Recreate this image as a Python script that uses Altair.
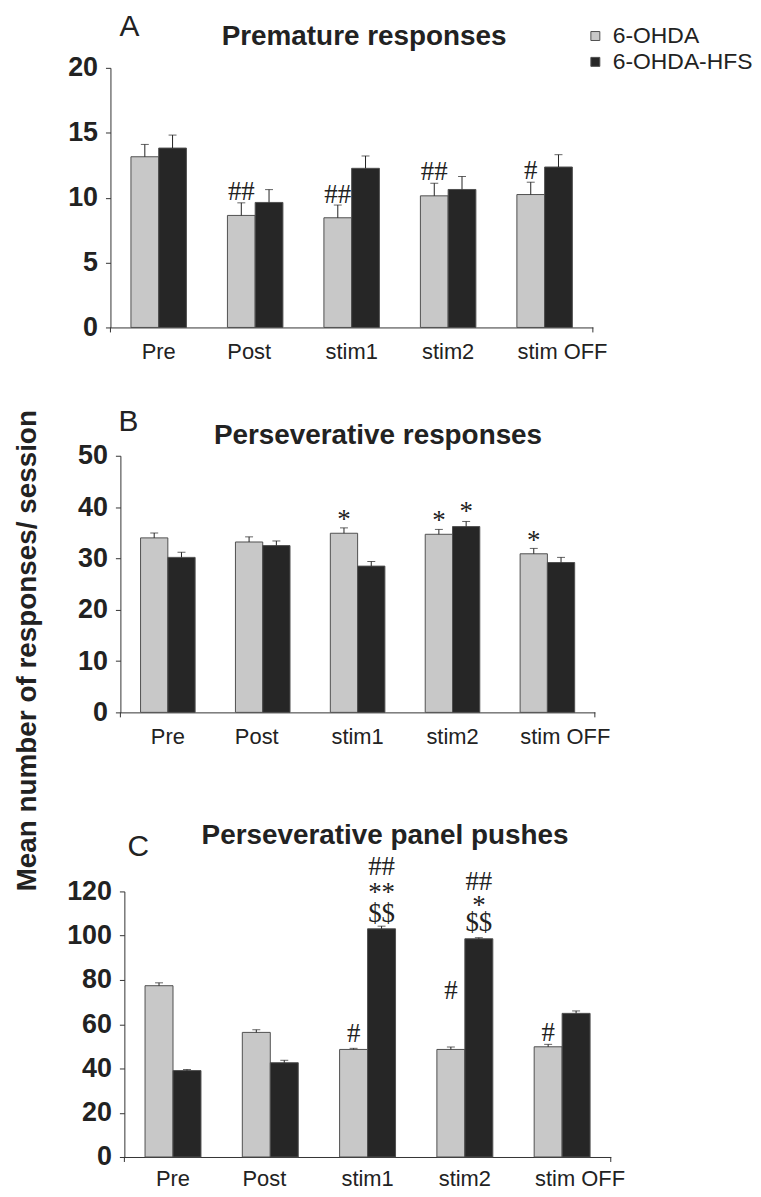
import altair as alt
import pandas as pd

SANS = "Liberation Sans, Arial, Helvetica, sans-serif"
SERIF = "Liberation Serif, Times New Roman, serif"
GRAY = "#c8c8c8"
BLACK = "#262626"
INK = "#222222"

conditions = ["Pre", "Post", "stim1", "stim2", "stim OFF"]
groups = ["6-OHDA", "6-OHDA-HFS"]

# ---- Panel A: Premature responses ----
a_mean_ohda = [13.15, 8.63, 8.45, 10.14, 10.24]
a_sem_ohda = [0.95, 0.97, 0.98, 0.97, 0.95]
a_mean_hfs = [13.82, 9.63, 12.26, 10.63, 12.36]
a_sem_hfs = [1.00, 0.99, 0.95, 1.00, 0.95]
a_ann_cond = ["Post", "stim1", "stim2", "stim OFF"]
a_ann_group = ["6-OHDA", "6-OHDA", "6-OHDA", "6-OHDA"]
a_ann_text = ["##", "##", "##", "#"]
a_ann_y = [10.4, 10.2, 11.95, 12.08]

# ---- Panel B: Perseverative responses ----
b_mean_ohda = [34.0, 33.2, 34.9, 34.7, 30.9]
b_sem_ohda = [0.95, 1.0, 1.05, 0.95, 1.05]
b_mean_hfs = [30.2, 32.5, 28.5, 36.2, 29.2]
b_sem_hfs = [1.0, 0.9, 0.9, 1.0, 1.0]
b_star_cond = ["stim1", "stim2", "stim2", "stim OFF"]
b_star_group = ["6-OHDA", "6-OHDA", "6-OHDA-HFS", "6-OHDA"]
b_star_text = ["*", "*", "*", "*"]
b_star_y = [38.2, 38.0, 39.9, 34.1]

# ---- Panel C: Perseverative panel pushes ----
c_mean_ohda = [77.4, 56.3, 48.6, 48.6, 49.8]
c_sem_ohda = [1.3, 1.2, 0.5, 1.1, 1.1]
c_mean_hfs = [39.05, 42.6, 103.1, 98.6, 64.9]
c_sem_hfs = [0.5, 1.1, 1.2, 0.5, 1.1]
c_ann_cond = ["stim1", "stim1", "stim1", "stim2", "stim2", "stim2", "stim OFF"]
c_ann_group = ["6-OHDA", "6-OHDA-HFS", "6-OHDA-HFS", "6-OHDA", "6-OHDA-HFS", "6-OHDA-HFS", "6-OHDA"]
c_ann_text = ["#", "$$", "##", "#", "$$", "##", "#"]
c_ann_y = [55.4, 110.0, 130.9, 74.8, 105.5, 124.2, 56.1]
c_star_cond = ["stim1", "stim2"]
c_star_group = ["6-OHDA-HFS", "6-OHDA-HFS"]
c_star_text = ["**", "*"]
c_star_y = [121.2, 115.2]

y_title = "Mean number of responses/ session"


def bars_df(m1, s1, m2, s2):
    rows = []
    for c, m, s in zip(conditions, m1, s1):
        rows.append({"cond": c, "group": groups[0], "mean": m, "upper": m + s})
    for c, m, s in zip(conditions, m2, s2):
        rows.append({"cond": c, "group": groups[1], "mean": m, "upper": m + s})
    return pd.DataFrame(rows)


def ann_df(conds, grps, texts, ys):
    return pd.DataFrame({"cond": conds, "group": grps, "txt": texts, "y": ys})


def text_layer(txt, x, y, size, weight="normal", angle=None):
    kw = dict(font=SANS, fontSize=size, fontWeight=weight, color=INK,
              align="center", baseline="middle")
    if angle is not None:
        kw["angle"] = angle
    return alt.Chart(pd.DataFrame({"t": [txt]})).mark_text(**kw).encode(
        x=alt.value(x), y=alt.value(y), text="t:N")


label_shift = {
    "condition": [
        {"test": "datum.value === 'Post'", "value": -6},
        {"test": "datum.value === 'stim OFF'", "value": 18},
    ],
    "value": 0,
}


def panel(df, anns, stars, ymax, yvals, width, height, xrange, yrange, axis_off,
          letter, letter_xy, title, title_xy, label_pad=14, legend=None, extra=None):
    xs = alt.Scale(domain=conditions, range=xrange, paddingInner=0.425, paddingOuter=0.2125)
    ys = alt.Scale(domain=[0, ymax], nice=False, zero=True, range=yrange)
    xaxis = alt.Axis(title=None, labelAngle=0, labelFont=SANS, labelFontSize=22,
                     labelColor=INK, labelPadding=label_pad, labelOffset=label_shift,
                     ticks=False, domainColor="#333333", domainWidth=1, grid=False)
    yaxis = alt.Axis(title=None, values=yvals, format="d", labelFont=SANS, labelFontSize=27,
                     labelFontWeight="bold", labelColor=INK, labelPadding=8, tickSize=5,
                     tickColor="#333333", tickWidth=1, domainColor="#333333", domainWidth=1,
                     grid=False, offset=axis_off)
    X = alt.X("cond:N", sort=conditions, scale=xs, axis=xaxis)
    XO = alt.XOffset("group:N", sort=groups, scale=alt.Scale(domain=groups))
    color = alt.Color("group:N", scale=alt.Scale(domain=groups, range=[GRAY, BLACK]),
                      legend=legend)
    base = alt.Chart(df)
    bars = base.mark_bar(stroke="#505050", strokeWidth=1).encode(
        x=X, xOffset=XO, y=alt.Y("mean:Q", scale=ys, axis=yaxis), color=color)
    err = base.mark_rule(color=INK, strokeWidth=1).encode(
        x=X, xOffset=XO, y=alt.Y("mean:Q", scale=ys, axis=yaxis), y2="upper:Q")
    cap = base.mark_tick(color=INK, thickness=1, size=8).encode(
        x=X, xOffset=XO, y=alt.Y("upper:Q", scale=ys, axis=yaxis))
    layers = [bars, err, cap]
    if anns is not None:
        layers.append(alt.Chart(anns).mark_text(
            font=SERIF, fontSize=27, color=INK, align="center", baseline="middle").encode(
            x=X, xOffset=XO, y=alt.Y("y:Q", scale=ys, axis=yaxis), text="txt:N"))
    if stars is not None:
        layers.append(alt.Chart(stars).mark_text(
            font=SERIF, fontSize=27, color=INK, align="center", baseline="middle", dy=4).encode(
            x=X, xOffset=XO, y=alt.Y("y:Q", scale=ys, axis=yaxis), text="txt:N"))
    layers.append(text_layer(letter, letter_xy[0], letter_xy[1], 30))
    layers.append(text_layer(title, title_xy[0], title_xy[1], 28, "bold"))
    for xe in xrange:
        layers.append(alt.Chart(pd.DataFrame({"t": [0]})).mark_rule(
            color="#333333", strokeWidth=1).encode(
            x=alt.value(xe), y=alt.value(yrange[0]), y2=alt.value(yrange[0] + 5)))
    if extra is not None:
        layers.append(extra)
    return alt.layer(*layers).properties(width=width, height=height)


legend_a = alt.Legend(orient="none", legendX=476, legendY=-43.5, title=None,
                      direction="vertical", symbolType="square", symbolSize=81,
                      symbolStrokeColor="#505050", symbolStrokeWidth=1,
                      labelFont=SANS, labelFontSize=23, labelColor=INK, labelOffset=6,
                      labelLimit=300, rowPadding=2, padding=0)

chart_a = panel(bars_df(a_mean_ohda, a_sem_ohda, a_mean_hfs, a_sem_hfs),
                ann_df(a_ann_cond, a_ann_group, a_ann_text, a_ann_y), None,
                20, [0, 5, 10, 15, 20], 485, 261, [0, 485], [261, 0], 0,
                "A", (19, -41), "Premature responses", (255, -31), legend=legend_a)

chart_b = panel(bars_df(b_mean_ohda, b_sem_ohda, b_mean_hfs, b_sem_hfs),
                None, ann_df(b_star_cond, b_star_group, b_star_text, b_star_y),
                50, [0, 10, 20, 30, 40, 50], 487, 258, [10, 487], [258, 0], -10,
                "B", (18, -34), "Perseverative responses", (269, -20),
                extra=text_layer(y_title, -83, 196, 28, "bold", angle=270))

chart_c = panel(bars_df(c_mean_ohda, c_sem_ohda, c_mean_hfs, c_sem_hfs),
                ann_df(c_ann_cond, c_ann_group, c_ann_text, c_ann_y),
                ann_df(c_star_cond, c_star_group, c_star_text, c_star_y),
                120, [0, 20, 40, 60, 80, 100, 120], 503, 318, [14, 503], [318, 51], -14,
                "C", (28, 6), "Perseverative panel pushes", (276, -5), label_pad=12)

chart = alt.vconcat(chart_a, chart_b, chart_c, spacing=129, bounds="flush").resolve_scale(
    x="independent", y="independent", xOffset="independent", color="independent"
).configure_view(stroke=None).properties(
    padding={"left": 5, "top": 1, "right": 0, "bottom": -5}, background="white"
)

chart.save("out.html", embed_options={"renderer": "svg", "actions": False})
